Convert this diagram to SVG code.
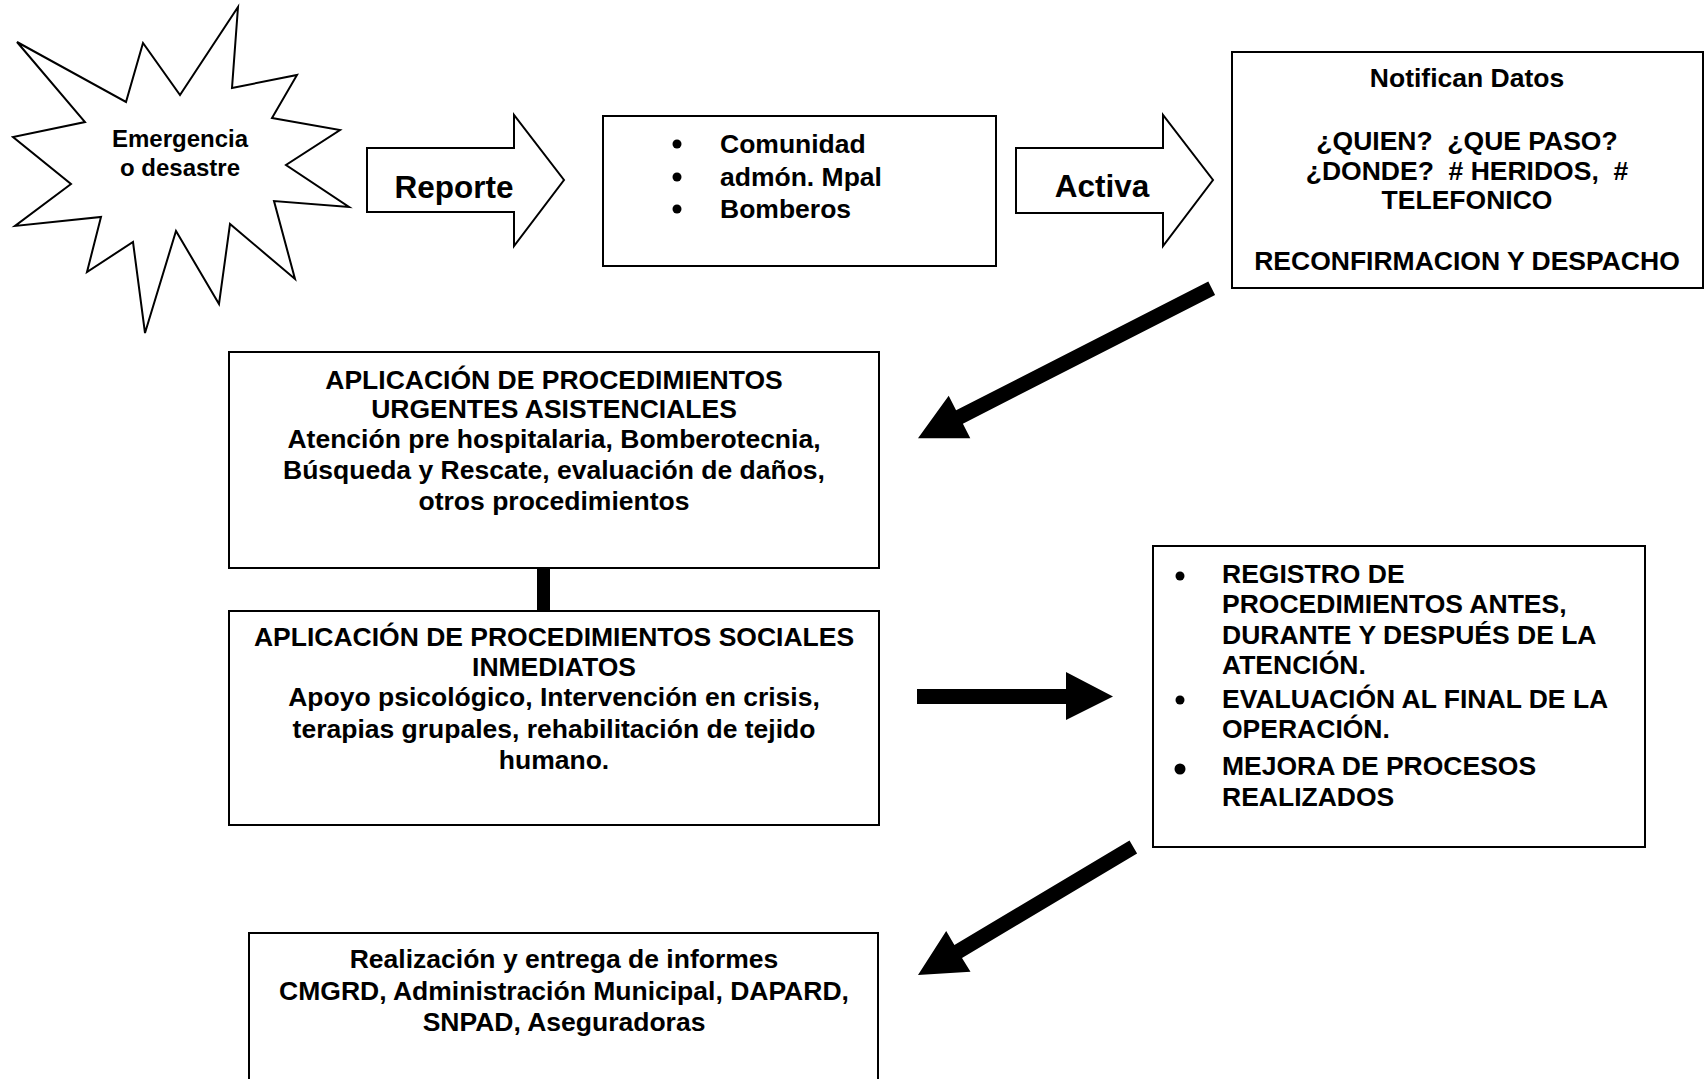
<svg xmlns="http://www.w3.org/2000/svg" width="1706" height="1079" viewBox="0 0 1706 1079">
<style>
.box{fill:#fff;stroke:#000;stroke-width:2}
.blk{fill:#000;stroke:none}
.outl{fill:#fff;stroke:#000;stroke-width:2;stroke-linejoin:miter}
text{font-family:"Liberation Sans",Arial,sans-serif;font-weight:bold;fill:#000}
.t{font-size:26.5px}
.c{text-anchor:middle}
.star{font-size:24px;text-anchor:middle}
.lbl{font-size:31.5px;text-anchor:middle}
</style>
<rect width="1706" height="1079" fill="#fff"/>
<g id="connectors">
<polygon id="arrow-reporte" class="outl" points="367,148 514,148 514,115 564,180 514,246 514,212 367,212"/>
<polygon id="arrow-activa" class="outl" points="1016,148 1163,148 1163,115 1213,180 1163,246 1163,213 1016,213"/>
<polygon id="arrow-diag1" class="blk" points="1208.3,281.6 1215.1,295 962.9,423.7 970.3,438.2 918,438.3 948.7,395.8 956.1,410.3"/>
<rect id="bar-ab" class="blk" x="537" y="567" width="13" height="44"/>
<polygon id="arrow-right" class="blk" points="917,689 1066,689 1066,672 1113,696.5 1066,720 1066,704 917,704"/>
<polygon id="arrow-diag2" class="blk" points="1129.5,840.5 1137.1,853.5 962,958 970.5,971.7 918,975 946.2,931 954.4,945"/>
<text class="lbl" x="454" y="198">Reporte</text>
<text class="lbl" x="1102" y="197">Activa</text>
</g>
<g id="node-emergencia">
<polygon class="outl" points="238,7 232,88 297,75 272,118 340,130 286,165 349,207 274,201 295,279 230,224 219,304 176,231 145,333 133,242 87,272 101,217 15,226 71,184 13,137 85,122 17,42 126,102 143,43 180,95"/>
<text class="star" x="180" y="147">Emergencia</text>
<text class="star" x="180" y="176">o desastre</text>
</g>
<g id="node-actores">
<rect class="box" x="603" y="116" width="393" height="150"/>
<circle cx="677" cy="144" r="4.5"/>
<circle cx="677" cy="177" r="4.5"/>
<circle cx="677" cy="209" r="4.5"/>
<text class="t" x="720" y="153">Comunidad</text>
<text class="t" x="720" y="186">admón. Mpal</text>
<text class="t" x="720" y="218">Bomberos</text>
</g>
<g id="node-notifican">
<rect class="box" x="1232" y="52" width="471" height="236"/>
<text class="t c" x="1467" y="87">Notifican Datos</text>
<text class="t c" x="1467" y="150" xml:space="preserve">¿QUIEN?  ¿QUE PASO?</text>
<text class="t c" x="1467" y="180" xml:space="preserve">¿DONDE?  # HERIDOS,  #</text>
<text class="t c" x="1467" y="209">TELEFONICO</text>
<text class="t c" x="1467" y="270">RECONFIRMACION Y DESPACHO</text>
</g>
<g id="node-urgentes">
<rect class="box" x="229" y="352" width="650" height="216"/>
<text class="t c" x="554" y="389">APLICACIÓN DE PROCEDIMIENTOS</text>
<text class="t c" x="554" y="418">URGENTES ASISTENCIALES</text>
<text class="t c" x="554" y="448">Atención pre hospitalaria, Bomberotecnia,</text>
<text class="t c" x="554" y="479">Búsqueda y Rescate, evaluación de daños,</text>
<text class="t c" x="554" y="510">otros procedimientos</text>
</g>
<g id="node-sociales">
<rect class="box" x="229" y="611" width="650" height="214"/>
<text class="t c" x="554" y="646">APLICACIÓN DE PROCEDIMIENTOS SOCIALES</text>
<text class="t c" x="554" y="676">INMEDIATOS</text>
<text class="t c" x="554" y="706">Apoyo psicológico, Intervención en crisis,</text>
<text class="t c" x="554" y="738">terapias grupales, rehabilitación de tejido</text>
<text class="t c" x="554" y="769">humano.</text>
</g>
<g id="node-registro">
<rect class="box" x="1153" y="546" width="492" height="301"/>
<circle cx="1180" cy="576" r="4.5"/>
<circle cx="1180" cy="700" r="4.5"/>
<circle cx="1180" cy="769" r="5.5"/>
<text class="t" x="1222" y="583">REGISTRO DE</text>
<text class="t" x="1222" y="613">PROCEDIMIENTOS ANTES,</text>
<text class="t" x="1222" y="644">DURANTE Y DESPUÉS DE LA</text>
<text class="t" x="1222" y="674">ATENCIÓN.</text>
<text class="t" x="1222" y="708">EVALUACIÓN AL FINAL DE LA</text>
<text class="t" x="1222" y="738">OPERACIÓN.</text>
<text class="t" x="1222" y="775">MEJORA DE PROCESOS</text>
<text class="t" x="1222" y="806">REALIZADOS</text>
</g>
<g id="node-informes">
<rect class="box" x="249" y="933" width="629" height="160"/>
<text class="t c" x="564" y="968">Realización y entrega de informes</text>
<text class="t c" x="564" y="1000">CMGRD, Administración Municipal, DAPARD,</text>
<text class="t c" x="564" y="1031">SNPAD, Aseguradoras</text>
</g>
</svg>
